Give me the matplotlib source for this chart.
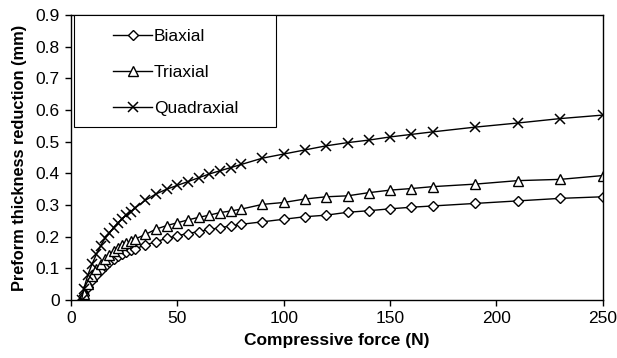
import matplotlib
matplotlib.use("Agg")
import matplotlib.pyplot as plt
from matplotlib.patches import Rectangle
from matplotlib.ticker import FormatStrFormatter

plt.rcParams['font.family'] = ['Liberation Sans', 'DejaVu Sans']

# compressive force (N)
force = [5, 6, 8, 10, 12, 14, 16, 18, 20, 22, 24, 26, 28, 30,
         35, 40, 45, 50, 55, 60, 65, 70, 75, 80,
         90, 100, 110, 120, 130, 140, 150, 160, 170,
         190, 210, 230, 250]

# thickness reduction (mm)
biaxial = [0.0, 0.015, 0.04, 0.062, 0.08, 0.095, 0.108, 0.12, 0.13, 0.139, 0.146, 0.152, 0.157, 0.161,
           0.174, 0.184, 0.195, 0.203, 0.210, 0.216, 0.223, 0.228, 0.234, 0.239,
           0.247, 0.255, 0.263, 0.268, 0.277, 0.282, 0.288, 0.293, 0.297,
           0.305, 0.313, 0.321, 0.326]
triaxial = [0.0, 0.02, 0.05, 0.075, 0.097, 0.115, 0.13, 0.143, 0.155, 0.165, 0.173, 0.18, 0.186, 0.192,
            0.207, 0.224, 0.235, 0.244, 0.253, 0.261, 0.268, 0.276, 0.281, 0.287,
            0.302, 0.308, 0.319, 0.326, 0.329, 0.339, 0.347, 0.352, 0.358,
            0.366, 0.377, 0.381, 0.393]
quadraxial = [0.0, 0.035, 0.08, 0.115, 0.145, 0.172, 0.195, 0.212, 0.228, 0.243, 0.256, 0.268, 0.279, 0.29,
              0.315, 0.335, 0.35, 0.362, 0.374, 0.386, 0.398, 0.408, 0.418, 0.428,
              0.448, 0.461, 0.474, 0.487, 0.497, 0.505, 0.515, 0.523, 0.531,
              0.546, 0.559, 0.573, 0.584]

xticks = [0, 50, 100, 150, 200, 250]
yticks = [0, 0.1, 0.2, 0.3, 0.4, 0.5, 0.6, 0.7, 0.8, 0.9]

fig = plt.figure(figsize=(6.17, 3.58), dpi=100)
ax = fig.add_axes([0.115, 0.162, 0.862, 0.796])

ax.plot(force, biaxial, color='black', lw=1.0, marker='D', ms=5,
        mfc='white', mec='black', mew=1.0, label='Biaxial')
ax.plot(force, triaxial, color='black', lw=1.0, marker='^', ms=6.5,
        mfc='white', mec='black', mew=1.0, label='Triaxial')
ax.plot(force, quadraxial, color='black', lw=1.0, marker='x', ms=7,
        mec='black', mew=1.1, label='Quadraxial')

ax.set_xlim(0, 250)
ax.set_ylim(0, 0.9)
ax.set_xticks(xticks)
ax.set_yticks(yticks)
ax.yaxis.set_major_formatter(FormatStrFormatter('%g'))
ax.tick_params(direction='out', length=4, width=1, labelsize=12.5, colors='black', pad=4)
for s in ax.spines.values():
    s.set_linewidth(1.0)
    s.set_color('black')

ax.set_xlabel('Compressive force (N)', fontsize=12.5, fontweight='bold', labelpad=5)
ax.set_ylabel('Preform thickness reduction (mm)', fontsize=11.8, fontweight='bold', labelpad=6)

# legend box (drawn separately to get the wide padding)
box = Rectangle((0.0056, 0.607), 0.38, 0.393, transform=ax.transAxes,
                facecolor='white', edgecolor='black', lw=0.8, zorder=5)
ax.add_patch(box)
leg = ax.legend(loc='upper left', bbox_to_anchor=(0.079, 0.951), frameon=False,
                fontsize=12.5, handlelength=2.25, handletextpad=0.1,
                labelspacing=1.2, borderpad=0, borderaxespad=0)
leg.set_zorder(6)

fig.savefig('out.png', dpi=100)
